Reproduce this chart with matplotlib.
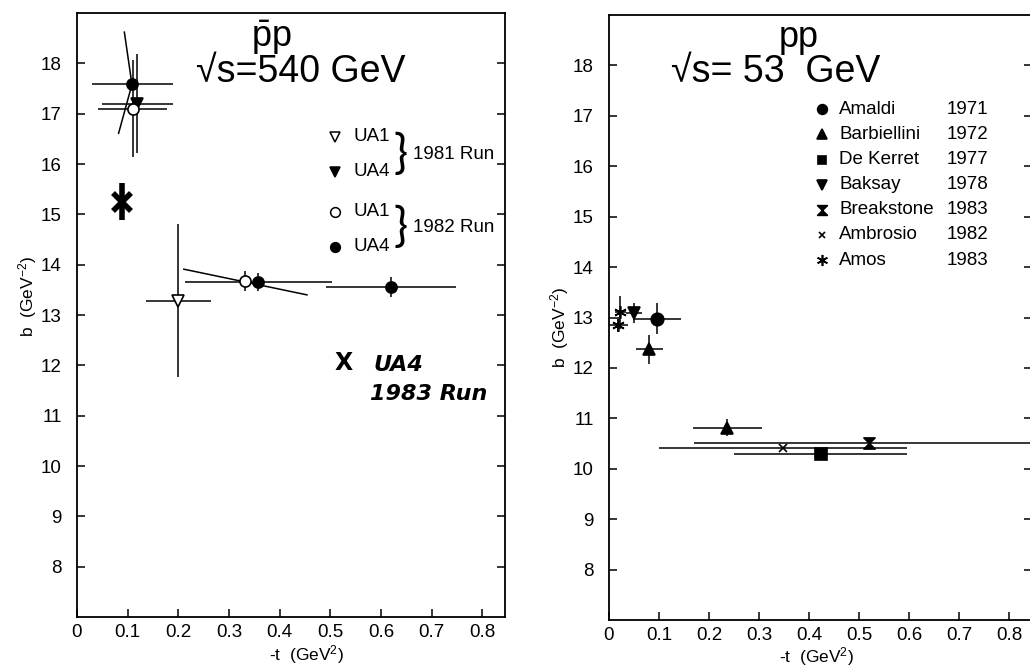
import matplotlib
matplotlib.use('Agg')
import matplotlib.pyplot as plt
from matplotlib.path import Path

plt.rcParams['font.family'] = ['Liberation Sans', 'DejaVu Sans']
plt.rcParams['mathtext.default'] = 'regular'

T_TICKS = [0, 0.1, 0.2, 0.3, 0.4, 0.5, 0.6, 0.7, 0.8]
T_LABELS = ['0', '0.1', '0.2', '0.3', '0.4', '0.5', '0.6', '0.7', '0.8']
B_TICKS = [8, 9, 10, 11, 12, 13, 14, 15, 16, 17, 18]

# pbar-p, sqrt(s) = 540 GeV
UA1_81_T, UA1_81_B, UA1_81_TERR, UA1_81_BERR = [0.200], [13.28], [0.064], [1.52]
UA4_81_T, UA4_81_B, UA4_81_TERR, UA4_81_BERR = [0.119], [17.20], [0.070], [0.98]
UA1_82_T, UA1_82_B, UA1_82_TERR, UA1_82_BERR = [0.110, 0.332], [17.10, 13.68], [0.068, 0.0], [0.96, 0.20]
UA4_82_T, UA4_82_B, UA4_82_TERR, UA4_82_BERR = [0.109, 0.358, 0.620], [17.58, 13.66, 13.56], [0.080, 0.145, 0.129], [0.0, 0.18, 0.20]
UA4_83_T, UA4_83_B, UA4_83_BERR = [0.089], [15.25], [0.37]
# local slope lines
SLOPE_A_T, SLOPE_A_B = [0.0935, 0.1085, 0.0821], [18.62, 17.58, 16.61]
SLOPE_B_T, SLOPE_B_B = [0.211, 0.454], [13.91, 13.40]

# pp, sqrt(s) = 53 GeV
AMALDI_T, AMALDI_B, AMALDI_TERR, AMALDI_BERR = [0.096], [12.98], [0.048], [0.30]
BARB_T, BARB_B, BARB_TERR, BARB_BERR = [0.080, 0.236], [12.37, 10.81], [0.027, 0.069], [0.29, 0.17]
DEKERRET_T, DEKERRET_B, DEKERRET_TERR, DEKERRET_BERR = [0.423], [10.29], [0.173], [0.0]
BAKSAY_T, BAKSAY_B, BAKSAY_TERR, BAKSAY_BERR = [0.050], [13.09], [0.016], [0.20]
BREAK_T, BREAK_B, BREAK_TERR, BREAK_BERR = [0.520], [10.52], [0.350], [0.0]
AMBROSIO_T, AMBROSIO_B, AMBROSIO_TERR, AMBROSIO_BERR = [0.347], [10.41], [0.248], [0.0]
AMOS_T, AMOS_B, AMOS_TERR, AMOS_BERR = [0.018, 0.022], [12.86, 13.10], [0.019, 0.011], [0.15, 0.32]

LEGEND_53_NAMES = ['Amaldi', 'Barbiellini', 'De Kerret', 'Baksay', 'Breakstone', 'Ambrosio', 'Amos']
LEGEND_53_YEARS = ['1971', '1972', '1977', '1978', '1983', '1982', '1983']

HOURGLASS = Path([(-1, 1), (1, 1), (-1, -1), (1, -1), (-1, 1)],
                 [Path.MOVETO, Path.LINETO, Path.LINETO, Path.LINETO, Path.CLOSEPOLY])


def style_axes(ax):
    ax.set_xlim(0, 0.845)
    ax.set_ylim(7, 19)
    ax.set_xticks(T_TICKS, T_LABELS)
    ax.set_yticks(B_TICKS)
    ax.tick_params(direction='in', length=6, width=1.1, labelsize=13.5, right=True, top=False)
    ax.tick_params(axis='y', pad=11)
    ax.tick_params(axis='x', pad=5)
    for s in ax.spines.values():
        s.set_linewidth(1.3)
    ax.set_xlabel('-t  (GeV$^2$)', fontsize=12.5)
    ax.set_ylabel('b  (GeV$^{-2}$)', fontsize=12.5)


def point(ax, t, b, terr, berr, marker, filled=True, ms=8, **kw):
    ax.errorbar(t, b, xerr=terr, yerr=berr, fmt='', marker=marker, ls='none', ms=ms, color='black',
                mfc='black' if filled else 'white', mec='black', mew=1.2,
                elinewidth=1.1, capsize=0, zorder=3, **kw)


fig = plt.figure(figsize=(10.3, 6.68), dpi=100)
ax1 = fig.add_axes([77 / 1030, 1 - 617 / 668, 428 / 1030, 604 / 668])
ax2 = fig.add_axes([609 / 1030, 1 - 620 / 668, 422.5 / 1030, 605 / 668])

# ---- left panel ----
style_axes(ax1)
ax1.plot(SLOPE_A_T, SLOPE_A_B, color='black', lw=1.1)
ax1.plot(SLOPE_B_T, SLOPE_B_B, color='black', lw=1.1)
point(ax1, UA1_81_T, UA1_81_B, UA1_81_TERR, UA1_81_BERR, 'v', filled=False)
point(ax1, UA4_81_T, UA4_81_B, UA4_81_TERR, UA4_81_BERR, 'v')
point(ax1, UA1_82_T, UA1_82_B, UA1_82_TERR, UA1_82_BERR, 'o', filled=False)
point(ax1, UA4_82_T, UA4_82_B, UA4_82_TERR, UA4_82_BERR, 'o')
ax1.errorbar(UA4_83_T, UA4_83_B, yerr=UA4_83_BERR, fmt='x', ms=13, mew=4, color='black',
             elinewidth=4, capsize=0, zorder=3)

ax1.text(0.453, 0.960, r'$\bar{p}p$', transform=ax1.transAxes, ha='center', va='center', fontsize=26)
ax1.text(0.523, 0.902, '√s=540 GeV', transform=ax1.transAxes, ha='center', va='center', fontsize=27)

left_rows = [('v', False, 'UA1'), ('v', True, 'UA4'), ('o', False, 'UA1'), ('o', True, 'UA4')]
left_y = [0.795, 0.737, 0.671, 0.613]
for (m, filled, lab), fy in zip(left_rows, left_y):
    ax1.plot([0.603], [fy], m, ms=7, color='black', mfc='black' if filled else 'white',
             mew=1.1, transform=ax1.transAxes)
    ax1.text(0.645, fy, lab, transform=ax1.transAxes, ha='left', va='center', fontsize=13.5)
for fy, run in zip([0.766, 0.645], ['1981 Run', '1982 Run']):
    ax1.text(0.755, fy, '}', transform=ax1.transAxes, ha='center', va='center', fontsize=34,
             family=['Lato', 'DejaVu Sans'])
    ax1.text(0.785, fy, run, transform=ax1.transAxes, ha='left', va='center', fontsize=13.5)

ax1.text(0.623, 0.420, 'X', transform=ax1.transAxes, ha='center', va='center', fontsize=17,
         fontweight='bold', family='DejaVu Sans')
ax1.text(0.692, 0.418, 'UA4', transform=ax1.transAxes, ha='left', va='center', fontsize=16,
         fontstyle='italic', fontweight='bold', family='DejaVu Sans')
ax1.text(0.685, 0.370, '1983 Run', transform=ax1.transAxes, ha='left', va='center', fontsize=16,
         fontstyle='italic', fontweight='bold', family='DejaVu Sans')
ax1.xaxis.set_label_coords(0.537, -0.044)
ax1.yaxis.set_label_coords(-0.088, 0.530)

# ---- right panel ----
style_axes(ax2)
point(ax2, AMALDI_T, AMALDI_B, AMALDI_TERR, AMALDI_BERR, 'o', ms=9)
point(ax2, BARB_T, BARB_B, BARB_TERR, BARB_BERR, '^', ms=8)
point(ax2, DEKERRET_T, DEKERRET_B, DEKERRET_TERR, DEKERRET_BERR, 's', ms=8)
point(ax2, BAKSAY_T, BAKSAY_B, BAKSAY_TERR, BAKSAY_BERR, 'v', ms=8)
point(ax2, BREAK_T, BREAK_B, BREAK_TERR, BREAK_BERR, HOURGLASS, ms=8)
point(ax2, AMBROSIO_T, AMBROSIO_B, AMBROSIO_TERR, AMBROSIO_BERR, 'x', ms=6)
point(ax2, AMOS_T, AMOS_B, AMOS_TERR, AMOS_BERR, (6, 2, 0), ms=9)

ax2.text(0.450, 0.962, 'pp', transform=ax2.transAxes, ha='center', va='center', fontsize=26)
ax2.text(0.395, 0.905, '√s= 53  GeV', transform=ax2.transAxes, ha='center', va='center', fontsize=27)

legend_markers = ['o', '^', 's', 'v', HOURGLASS, 'x', (6, 2, 0)]
legend_sizes = [7, 7, 6, 7, 7, 5, 8]
for i, (m, ms, name, year) in enumerate(zip(legend_markers, legend_sizes, LEGEND_53_NAMES, LEGEND_53_YEARS)):
    fy = 0.844 - i * 0.0415
    ax2.plot([0.503], [fy], marker=m, ms=ms, color='black', mew=1.2, ls='none', transform=ax2.transAxes)
    ax2.text(0.545, fy, name, transform=ax2.transAxes, ha='left', va='center', fontsize=13.5)
    ax2.text(0.800, fy, year, transform=ax2.transAxes, ha='left', va='center', fontsize=13.5)
ax2.xaxis.set_label_coords(0.49, -0.041)
ax2.yaxis.set_label_coords(-0.090, 0.483)

fig.savefig('out.png', dpi=100)
